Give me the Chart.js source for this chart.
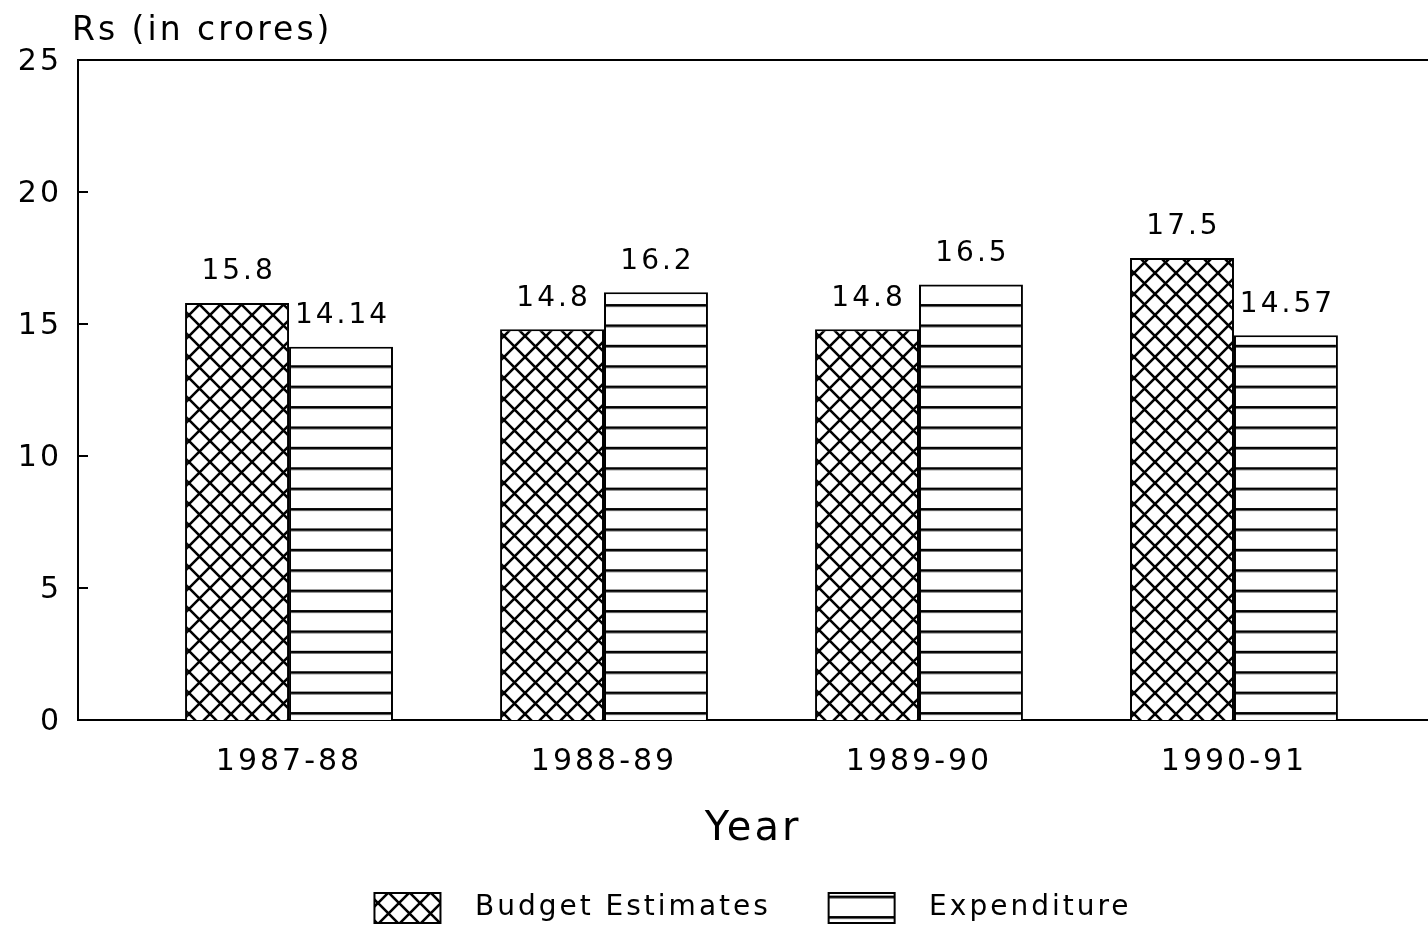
<!DOCTYPE html>
<html>
<head>
<meta charset="utf-8">
<script src="https://cdn.jsdelivr.net/npm/chart.js@4.4.1/dist/chart.umd.min.js"></script>
<style>
  html, body { margin: 0; padding: 0; background: #fff; overflow: hidden; }
  #wrap { width: 1428px; height: 926px; position: relative; }
</style>
</head>
<body>
<div id="wrap"><canvas id="c"></canvas></div>
<script>
// Budget estimates vs. actual expenditure, Rs crores
const years = ['1987-88', '1988-89', '1989-90', '1990-91'];
const budgetEstimates = [15.8, 14.8, 14.8, 17.5];
const expenditure = [14.14, 16.2, 16.5, 14.57];
const valueLabels = [['15.8', '14.8', '14.8', '17.5'], ['14.14', '16.2', '16.5', '14.57']];
const yTickValues = [0, 5, 10, 15, 20, 25];
const seriesNames = ['Budget Estimates', 'Expenditure'];
const yAxisTitle = 'Rs (in crores)';
const xAxisTitle = 'Year';

const FONT = '"DejaVu Sans", sans-serif';
const SPACING = '3px';
const canvas = document.getElementById('c');
const ctx = canvas.getContext('2d');

// Diamond cross-hatch fill
function crossHatch() {
  const s = 21;
  const t = document.createElement('canvas');
  t.width = s; t.height = s;
  const g = t.getContext('2d');
  g.fillStyle = '#fff';
  g.fillRect(0, 0, s, s);
  g.strokeStyle = '#000';
  g.lineWidth = 2.6;
  g.beginPath();
  for (const o of [-s, 0, s]) {
    g.moveTo(o, 0); g.lineTo(o + s, s);
    g.moveTo(o + s, 0); g.lineTo(o, s);
  }
  g.stroke();
  return ctx.createPattern(t, 'repeat');
}

// Horizontal rule fill
function hLines() {
  const t = document.createElement('canvas');
  t.width = 20; t.height = 20;
  const g = t.getContext('2d');
  g.fillStyle = '#fff';
  g.fillRect(0, 0, 20, 20);
  g.fillStyle = '#000';
  g.fillRect(0, 0, 20, 2.6);
  const p = ctx.createPattern(t, 'repeat');
  p.setTransform(new DOMMatrix([1, 0, 0, 1.02, 0, -2]));
  return p;
}

const toPoints = arr => arr.map((v, i) => ({ x: i, y: v }));

// Slightly wide lettering for every label on the canvas
const spacingPlugin = {
  id: 'spacing',
  beforeLayout(chart) { chart.ctx.letterSpacing = SPACING; },
  beforeDraw(chart) { chart.ctx.letterSpacing = SPACING; }
};

// Top frame line, inward y tick marks and the y-axis caption above the plot
const framePlugin = {
  id: 'frame',
  afterDraw(chart) {
    const { ctx: c, chartArea: a } = chart;
    const yScale = chart.scales.y;
    c.save();
    c.strokeStyle = '#000';
    c.lineWidth = 2;
    c.beginPath();
    c.moveTo(a.left - 1, a.top);
    c.lineTo(a.right, a.top);
    yTickValues.forEach(v => {
      const py = Math.round(yScale.getPixelForValue(v));
      c.moveTo(a.left, py);
      c.lineTo(a.left + 10, py);
    });
    c.stroke();
    c.fillStyle = '#000';
    c.font = '33px ' + FONT;
    c.textAlign = 'left';
    c.textBaseline = 'alphabetic';
    c.fillText(yAxisTitle, a.left - 6, a.top - 20);
    c.restore();
  }
};

// Value printed above each bar
const valuePlugin = {
  id: 'values',
  afterDatasetsDraw(chart) {
    const c = chart.ctx;
    c.save();
    c.fillStyle = '#000';
    c.font = '28px ' + FONT;
    c.textAlign = 'center';
    c.textBaseline = 'middle';
    chart.data.datasets.forEach((ds, di) => {
      chart.getDatasetMeta(di).data.forEach((bar, i) => {
        c.fillText(valueLabels[di][i], bar.x + 1.5, bar.y - 31);
      });
    });
    c.restore();
  }
};

new Chart(ctx, {
  type: 'bar',
  data: {
    datasets: [
      {
        label: seriesNames[0],
        data: toPoints(budgetEstimates),
        backgroundColor: crossHatch(),
        borderColor: '#000',
        borderWidth: 2
      },
      {
        label: seriesNames[1],
        data: toPoints(expenditure),
        backgroundColor: hLines(),
        borderColor: '#000',
        borderWidth: 2
      }
    ]
  },
  options: {
    responsive: true,
    maintainAspectRatio: false,
    animation: false,
    events: [],
    layout: { padding: { top: 60, right: 0, bottom: -7, left: 0 } },
    datasets: { bar: { categoryPercentage: 0.66, barPercentage: 1.0 } },
    scales: {
      x: {
        type: 'linear',
        offset: false,
        min: -0.67,
        max: 3.616,
        afterBuildTicks: s => { s.ticks = years.map((_, i) => ({ value: i })); },
        ticks: {
          color: '#000',
          font: { family: FONT, size: 30 },
          padding: 24,
          maxRotation: 0,
          autoSkip: false,
          callback: v => years[v] ?? ''
        },
        grid: { display: false, drawTicks: false },
        border: { display: true, color: '#000', width: 2 },
        title: {
          display: true,
          text: xAxisTitle,
          color: '#000',
          font: { family: FONT, size: 40 },
          padding: { top: 2, bottom: 5 }
        }
      },
      y: {
        min: 0,
        max: 25,
        afterBuildTicks: s => { s.ticks = yTickValues.map(v => ({ value: v })); },
        afterFit: s => { s.width = 78; },
        ticks: {
          color: '#000',
          font: { family: FONT, size: 30 },
          padding: 16,
          labelOffset: 2
        },
        grid: { display: false, drawTicks: false },
        border: { display: true, color: '#000', width: 2 }
      }
    },
    plugins: {
      legend: {
        position: 'bottom',
        fullSize: false,
        labels: {
          color: '#000',
          font: { family: FONT, size: 28 },
          boxWidth: 66,
          boxHeight: 30,
          padding: 34,
          generateLabels: chart => chart.data.datasets.map((ds, i) => ({
            text: ' \u2009' + ds.label + (i === 0 ? '  ' : ''),
            fillStyle: ds.backgroundColor,
            strokeStyle: '#000',
            lineWidth: 2,
            datasetIndex: i,
            hidden: false
          }))
        }
      },
      title: { display: false },
      tooltip: { enabled: false }
    }
  },
  plugins: [spacingPlugin, framePlugin, valuePlugin]
});
</script>
</body>
</html>
